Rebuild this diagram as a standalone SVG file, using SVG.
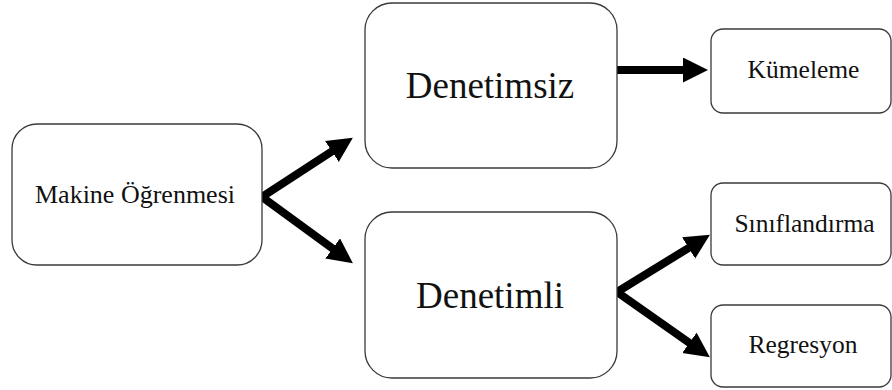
<svg xmlns="http://www.w3.org/2000/svg" width="892" height="390" viewBox="0 0 892 390">
  <style>
    .box { fill: #ffffff; stroke: #3a3a3a; stroke-width: 1.3; }
    .lbl { font-family: "Liberation Serif", "Times New Roman", serif; fill: #111111; text-anchor: middle; }
    .big { font-size: 37px; }
    .mid { font-size: 26px; }
    .small { font-size: 25.5px; }
    .conn { fill: none; stroke: #000000; stroke-width: 8; stroke-linejoin: miter; stroke-miterlimit: 10; }
  </style>
  <defs>
    <!-- solid triangular arrowhead; line stops 20px short of the tip -->
    <marker id="head" markerUnits="userSpaceOnUse" markerWidth="26" markerHeight="26" refX="5" refY="12.5" orient="auto-start-reverse" viewBox="0 0 26 26">
      <path d="M0,0 L25,12.5 L0,25 Z" fill="#000000"/>
    </marker>
  </defs>

  <g id="connectors">
    <path class="conn" d="M336.1,148.7 L262,197 L336.7,251.4" marker-start="url(#head)" marker-end="url(#head)"/>
    <line class="conn" x1="617" y1="70" x2="688" y2="70" marker-end="url(#head)"/>
    <path class="conn" d="M692.9,245.3 L617,292 L693.5,345.7" marker-start="url(#head)" marker-end="url(#head)"/>
  </g>

  <g id="makine-ogrenmesi">
    <rect class="box" x="12" y="124" width="250" height="141" rx="25" ry="25"/>
    <text class="lbl mid" x="135" y="203">Makine Öğrenmesi</text>
  </g>

  <g id="denetimsiz">
    <rect class="box" x="365" y="3" width="252" height="165" rx="27" ry="27"/>
    <text class="lbl big" x="490" y="98">Denetimsiz</text>
  </g>

  <g id="denetimli">
    <rect class="box" x="365" y="212" width="252" height="166" rx="27" ry="27"/>
    <text class="lbl big" x="490" y="308">Denetimli</text>
  </g>

  <g id="kumeleme">
    <rect class="box" x="711" y="29" width="180" height="84" rx="12" ry="12"/>
    <text class="lbl small" x="803.5" y="78">Kümeleme</text>
  </g>

  <g id="siniflandirma">
    <rect class="box" x="711" y="183" width="180" height="82" rx="12" ry="12"/>
    <text class="lbl small" x="804.5" y="232">Sınıflandırma</text>
  </g>

  <g id="regresyon">
    <rect class="box" x="711" y="305" width="180" height="82" rx="12" ry="12"/>
    <text class="lbl small" x="803" y="353">Regresyon</text>
  </g>
</svg>
